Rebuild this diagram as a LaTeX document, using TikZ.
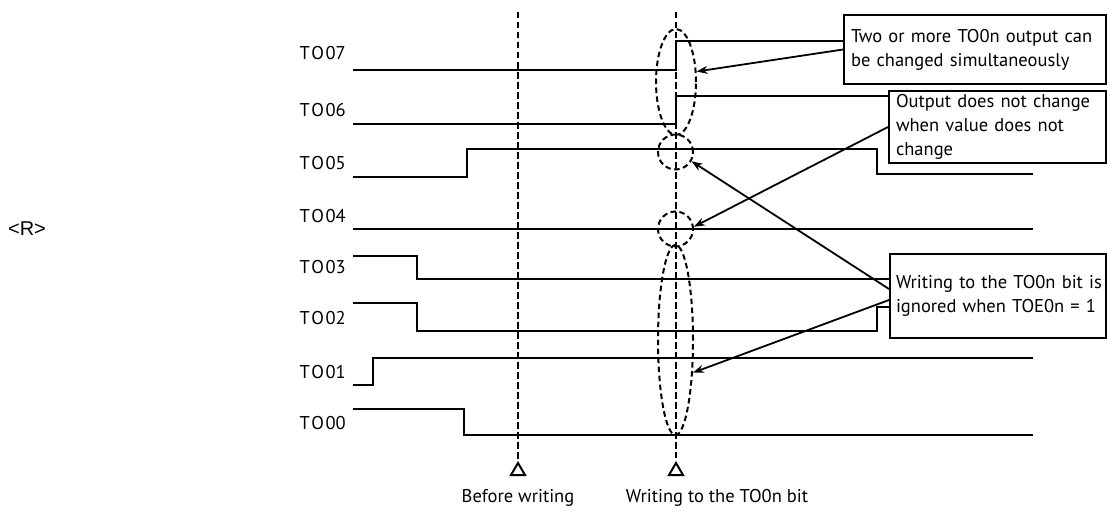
\documentclass[tikz,border=0pt]{standalone}
\usepackage{fontspec}
\setmainfont{PT Sans}
\newfontfamily\arialfont{Liberation Sans}
\usetikzlibrary{arrows.meta,shapes.geometric}

\begin{document}
\begin{tikzpicture}[x=1pt, y=-1pt, font=\fontsize{18.5}{24}\selectfont, >={Stealth[length=11pt,width=8pt]},
  sig/.style={line width=2.2pt},
  marker/.style={line width=2.6pt, dash pattern=on 6.5pt off 3.5pt},
  ring/.style={draw, ellipse, line width=2pt, dash pattern=on 5.5pt off 3.5pt, inner sep=0pt},
  note/.style={draw, fill=white, line width=2pt, anchor=north west, align=left, inner xsep=7pt, inner ysep=3pt}]
\useasboundingbox (0,0) rectangle (1107,511);

\node[font=\arialfont\fontsize{20}{22}\selectfont] (rmark) at (27,229) {<R>};

% signal names
\foreach \n/\y in {07/53,06/110,05/163,04/216,03/267,02/318,01/372,00/423}
  \node[anchor=east, inner sep=0pt] (lbl\n) at (346,\y) {T\kern1.5pt O\kern1.5pt\n};

% waveforms
\draw[sig] (353,70) -- (676,70) -- (676,41) -- (843,41);
\draw[sig] (353,124) -- (676,124) -- (676,96) -- (888,96);
\draw[sig] (353,177) -- (467,177) -- (467,149) -- (877,149) -- (877,174) -- (1033,174);
\draw[sig] (353,229) -- (1033,229);
\draw[sig] (353,256) -- (417,256) -- (417,279) -- (889,279);
\draw[sig] (353,303) -- (417,303) -- (417,331) -- (877,331) -- (877,307) -- (889,307);
\draw[sig] (353,385) -- (373,385) -- (373,358) -- (1033,358);
\draw[sig] (353,409) -- (464,409) -- (464,435) -- (1033,435);

% timing markers
\draw[marker] (518,12) -- (518,460);
\draw[marker] (676,12) -- (676,458);
\draw[line width=2pt] (518,463) -- (525,475) -- (511,475) -- cycle;
\draw[line width=2pt] (676,463) -- (683,475) -- (669,475) -- cycle;
\node (tbefore) at (518,498) {Before writing};
\node (twrite) at (717,498) {Writing to the TO0n bit};

% dashed rings
\node[ring, minimum width=40pt, minimum height=106pt] (e1) at (676,82) {};
\node[ring, minimum width=35pt, minimum height=35pt] (c5) at (675.5,152) {};
\node[ring, minimum width=35pt, minimum height=35pt] (c4) at (675.5,229) {};
\node[ring, minimum width=35pt, minimum height=190pt] (e3) at (675.5,340) {};

% notes
\node[note, minimum width=262pt, minimum height=69pt, text width=248pt] (b1) at (843,14)
  {Two or more TO0n output can\\be changed simultaneously};
\node[note, minimum width=217pt, minimum height=72pt, text width=203pt] (b2) at (888,90)
  {Output does not change\\when value does not\\change};
\node[note, minimum width=216pt, minimum height=84pt, text width=212pt, inner xsep=2pt] (b3) at (889,253)
  {\hspace*{4pt}Writing to the TO0n bit is\\\hspace*{4pt}ignored when TOE0n = 1};

% pointers
\draw[->, line width=1.8pt] (b1.west) -- (e1.27);
\draw[->, line width=1.8pt] (b2.west) -- (c4.7);
\draw[->, line width=1.8pt] ([yshift=7pt]b3.west) -- (c5.-30);
\draw[->, line width=1.8pt] ([yshift=-4pt]b3.west) -- (e3.-62);
\end{tikzpicture}
\end{document}
